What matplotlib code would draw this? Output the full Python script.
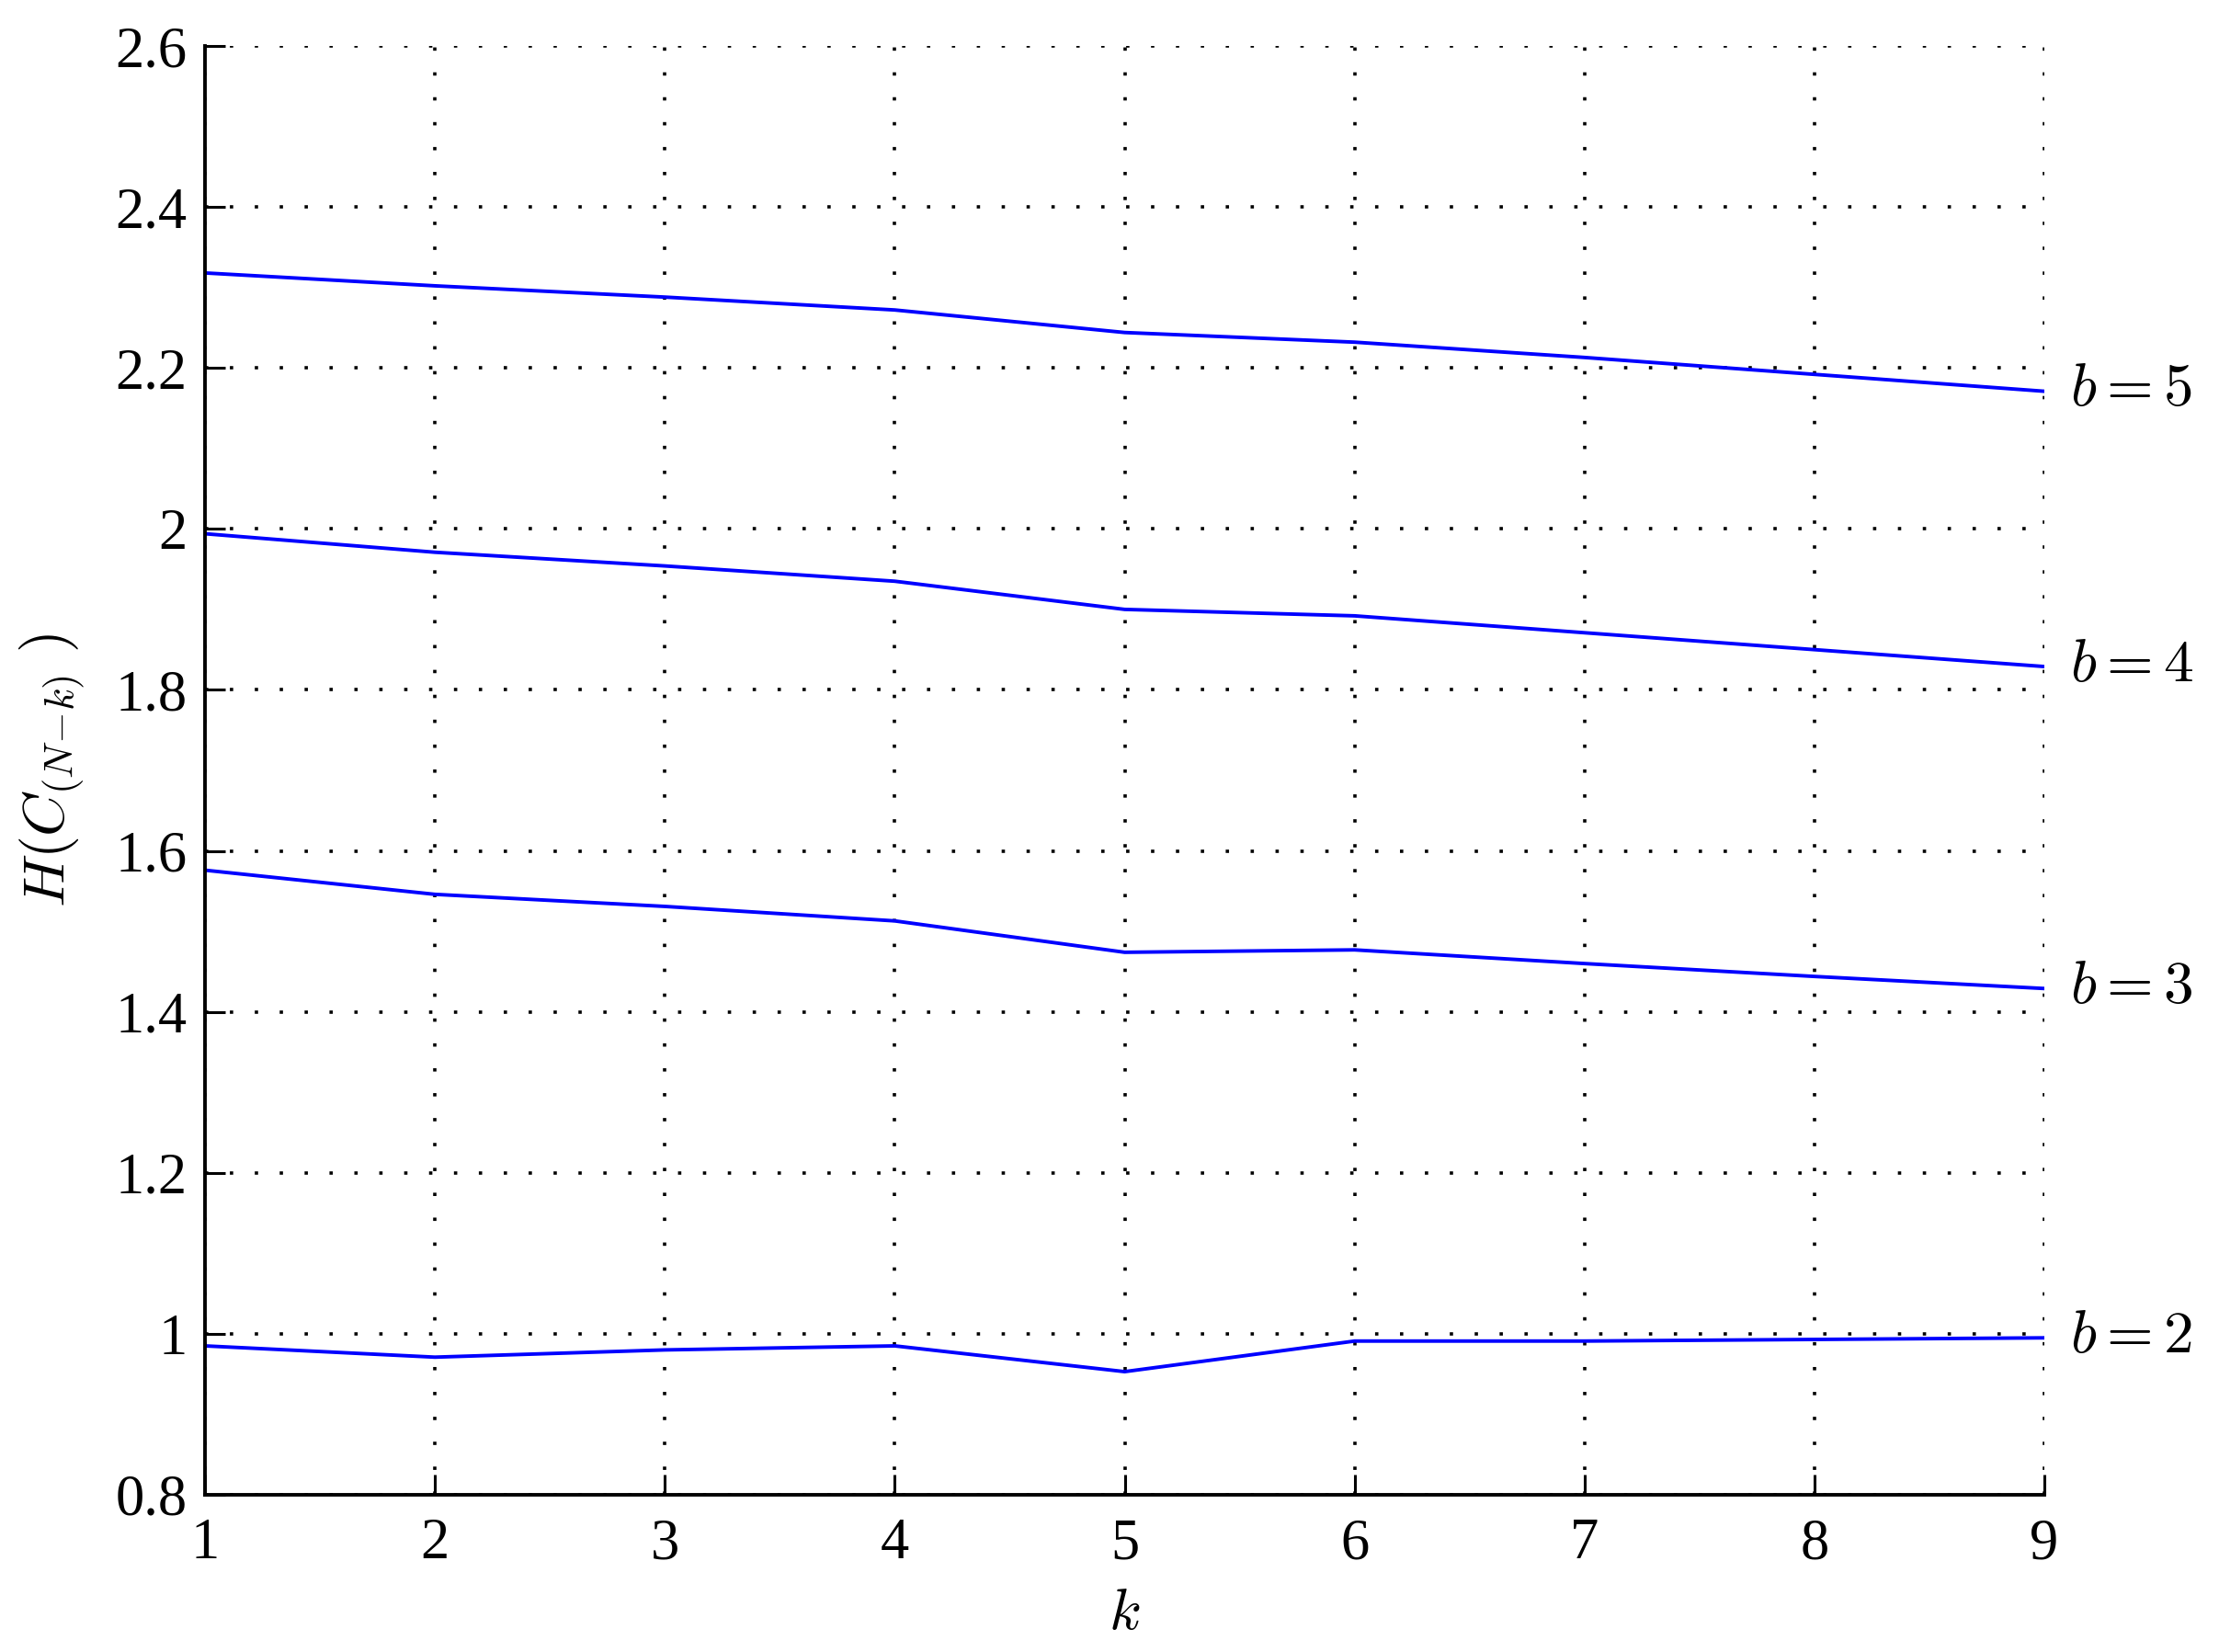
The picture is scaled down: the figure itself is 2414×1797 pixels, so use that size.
import numpy as np
import matplotlib
matplotlib.use('Agg')
import matplotlib.pyplot as plt

plt.rcParams['mathtext.fontset'] = 'cm'
plt.rcParams['font.family'] = ['Liberation Serif', 'DejaVu Serif']

# values
k = [1, 2, 3, 4, 5, 6, 7, 8, 9]
h_b5 = [2.318, 2.302, 2.288, 2.272, 2.244, 2.232, 2.213, 2.192, 2.171]
h_b4 = [1.994, 1.971, 1.954, 1.935, 1.900, 1.892, 1.871, 1.850, 1.829]
h_b3 = [1.576, 1.546, 1.531, 1.513, 1.474, 1.477, 1.460, 1.444, 1.429]
h_b2 = [0.985, 0.971, 0.980, 0.985, 0.953, 0.991, 0.991, 0.993, 0.995]
labels = ['$b=5$', '$b=4$', '$b=3$', '$b=2$']
yticks = [0.8, 1.0, 1.2, 1.4, 1.6, 1.8, 2.0, 2.2, 2.4, 2.6]
yticklabels = ['0.8', '1', '1.2', '1.4', '1.6', '1.8', '2', '2.2', '2.4', '2.6']

fig = plt.figure(figsize=(24.14, 17.97), dpi=100)
ax = fig.add_axes([223 / 2414, 1 - 1626 / 1797, 2001 / 2414, 1576 / 1797])

for h, lab in zip([h_b5, h_b4, h_b3, h_b2], labels):
    ax.plot(k, h, color=(0, 0, 1), lw=2.8, solid_joinstyle='miter')
    ax.text(k[-1] + 0.11, h[-1], lab, fontsize=47, va='center', ha='left')

ax.set_xlim(1, 9)
ax.set_ylim(0.8, 2.6)
ax.set_xticks(k)
ax.set_xticklabels([str(v) for v in k])
ax.set_yticks(yticks)
ax.set_yticklabels(yticklabels)

ax.grid(True, color='black', linestyle=(0, (1, 6.5)), linewidth=2.6)
ax.spines['top'].set_visible(False)
ax.spines['right'].set_visible(False)
for s in ['left', 'bottom']:
    ax.spines[s].set_linewidth(2.8)
ax.tick_params(direction='in', length=16, width=2.2, labelsize=45)
ax.tick_params(axis='y', pad=14)
ax.tick_params(axis='x', pad=18)

ax.set_xlabel('$k$', fontsize=46, labelpad=14)
ax.set_ylabel(r'$H(C_{(N\!-\!k)}\ )$', fontsize=46, labelpad=22)

fig.savefig('out.png', dpi=100)
